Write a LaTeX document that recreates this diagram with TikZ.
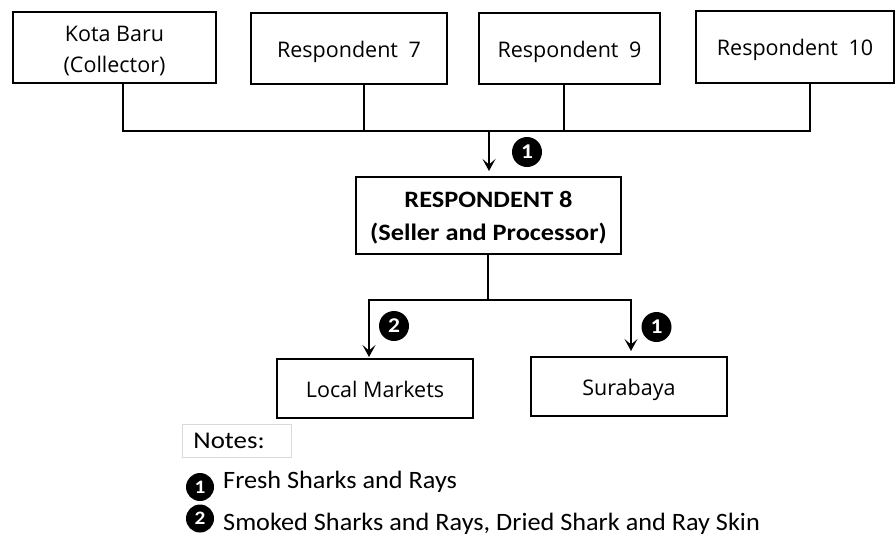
\documentclass[tikz,border=0pt]{standalone}
\usepackage{fontspec}
\setmainfont{Open Sans}
\newfontfamily\notefont{Carlito}[FakeStretch=1.05]
\newfontfamily\headfont{Carlito}[FakeStretch=1.12]
\usetikzlibrary{arrows.meta}
\begin{document}
\begin{tikzpicture}[x=1pt,y=-1pt,
  box/.style={draw, line width=2pt, rectangle, align=center, inner sep=0pt,
    text height=19pt, text depth=2pt,
    font=\fontsize{21.5}{31}\selectfont},
  mainbox/.style={box, text height=51pt, text depth=2pt,
    font=\headfont\bfseries\fontsize{23.5}{33}\selectfont},
  link/.style={line width=1.8pt},
  flow/.style={link, -{Stealth[length=12pt,width=13pt,inset=5.5pt]}},
  badge/.style={circle, fill=black, text=white, minimum size=30pt, inner sep=0pt,
    font=\headfont\bfseries\fontsize{21}{21}\selectfont},
  note/.style={anchor=base west, inner sep=0pt, font=\notefont\fontsize{25}{25}\selectfont}
]
\useasboundingbox (0,0) rectangle (896,536);

% suppliers
\node[box, text height=52pt, text depth=2pt, minimum width=203pt, minimum height=71pt]
  (kota) at (114.5,47.5) {Kota Baru\\(Collector)};
\node[box, minimum width=196pt, minimum height=71pt] (r7) at (349,48.5) {Respondent\hspace{5pt} 7};
\node[box, minimum width=181pt, minimum height=71pt] (r9) at (569.5,48.5) {Respondent\hspace{5pt} 9};
\node[box, minimum width=198pt, minimum height=72pt] (r10) at (795,47) {Respondent\hspace{5pt} 10};

% seller and processor
\node[mainbox, minimum width=265pt, minimum height=77pt] (r8) at (488.5,215.5) {RESPONDENT 8\\(Seller and Processor)};

% destinations
\node[box, minimum width=196pt, minimum height=59pt] (lm) at (375,388.5) {Local Markets};
\node[box, minimum width=196pt, minimum height=59pt] (sb) at (629,386.5) {Surabaya};

% collecting bus
\coordinate (bl) at (123,131);
\coordinate (br) at (810,131);
\coordinate (b7) at (364,131);
\coordinate (b9) at (564,131);
\coordinate (bm) at (489,131);
\draw[link] (kota.south -| bl) -- (bl) -- (br) -- (r10.south -| br);
\draw[link] (r7.south -| b7) -- (b7);
\draw[link] (r9.south -| b9) -- (b9);
\draw[flow, shorten >=5pt] (bm) -- (r8.north -| bm);

% distribution
\coordinate (split) at (488,300);
\coordinate (sl) at (369,300);
\coordinate (sr) at (631,300);
\draw[link] (r8.south -| split) -- (split);
\draw[flow, shorten >=1pt] (split) -- (sl) -- (lm.north -| sl);
\draw[flow, shorten >=5pt] (split) -- (sr) -- (sb.north -| sr);

% product markers
\node[badge] (m1) at (527,152) {1};
\node[badge] (m2) at (394,326) {2};
\node[badge] (m3) at (656.5,327) {1};

% legend
\node[draw=gray!30, line width=0.8pt, minimum height=33pt, inner xsep=11pt, inner ysep=0pt,
  text width=87pt, align=left, anchor=west, font=\headfont\fontsize{24}{24}\selectfont]
  (notes) at (182,440.5) {Notes:};
\node[badge, minimum size=28pt, font=\headfont\bfseries\fontsize{19}{19}\selectfont] (k1) at (200,487) {1};
\node[note] (t1) at (223,488) {Fresh Sharks and Rays};
\node[badge, minimum size=28pt, font=\headfont\bfseries\fontsize{19}{19}\selectfont] (k2) at (200,518.5) {2};
\node[note] (t2) at (223,530) {Smoked Sharks and Rays, Dried Shark and Ray Skin};
\end{tikzpicture}
\end{document}
